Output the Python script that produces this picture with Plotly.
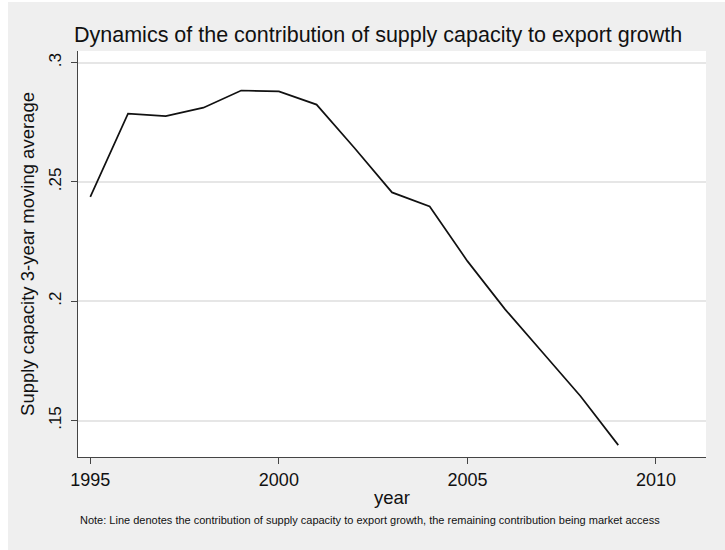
import plotly.graph_objects as go

years = [1995, 1996, 1997, 1998, 1999, 2000, 2001, 2002, 2003, 2004, 2005, 2006, 2007, 2008, 2009]
supply_share = [0.2437, 0.2786, 0.2776, 0.2811, 0.2883, 0.2879, 0.2824, 0.2643, 0.2456, 0.2397, 0.2168, 0.1966, 0.1784, 0.1602, 0.1397]
y_tickvals = [0.15, 0.2, 0.25, 0.3]
y_ticktext = [".15", ".2", ".25", ".3"]
x_tickvals = [1995, 2000, 2005, 2010]

title_text = "Dynamics of the contribution of supply capacity to export growth"
note_text = "Note: Line denotes the contribution of supply capacity to export growth, the remaining contribution being market access"

FONT = "Liberation Sans, Arial, Helvetica, sans-serif"
BG = "#efefef"
TXT = "#111111"

# plot area in pixels (reference)
L, R, T, B = 78, 706, 51, 457.5
PW, PH = R - L, B - T

fig = go.Figure()
fig.add_trace(go.Scatter(x=years, y=supply_share, mode="lines",
                         line=dict(color="#111111", width=1.7), showlegend=False,
                         hoverinfo="x+y"))

fig.update_layout(
    width=725, height=550,
    margin=dict(l=L, r=725 - R, t=T, b=550 - B, pad=0),
    paper_bgcolor=BG, plot_bgcolor="white",
    font=dict(family=FONT, color=TXT),
    showlegend=False,
    xaxis=dict(range=[1994.674, 2011.326], tickvals=x_tickvals,
               ticks="outside", ticklen=6, tickwidth=1, tickcolor="#444444",
               showline=True, linecolor="#444444", linewidth=1,
               showgrid=False, zeroline=False,
               tickfont=dict(size=18, family=FONT, color=TXT),
               title=dict(text="year", font=dict(size=18.5, family=FONT, color=TXT), standoff=2)),
    yaxis=dict(range=[0.13472, 0.30486], tickvals=y_tickvals, ticktext=y_ticktext,
               tickangle=-90, ticklabelstandoff=3,
               ticks="outside", ticklen=6, tickwidth=1, tickcolor="#444444",
               showline=True, linecolor="#444444", linewidth=1,
               showgrid=True, gridcolor="#e6e6e6", gridwidth=1.5, zeroline=False,
               tickfont=dict(size=17, family=FONT, color=TXT),
               title=dict(text="Supply capacity 3-year moving average",
                          font=dict(size=18.5, family=FONT, color=TXT), standoff=6)),
    shapes=[
        dict(type="rect", xref="paper", yref="paper", x0=-L / PW, x1=-(L - 8) / PW,
             y0=-2, y1=2, fillcolor="white", line=dict(width=0), layer="above"),
        dict(type="rect", xref="paper", yref="paper", x0=-0.2, x1=1.1,
             y0=1 + (T - 2) / PH, y1=1.5, fillcolor="white", line=dict(width=0), layer="above"),
    ],
    annotations=[
        dict(text=title_text, xref="paper", yref="paper",
             x=(377.5 - L) / PW, y=1 + (T - 35) / PH, xanchor="center", yanchor="middle",
             showarrow=False, font=dict(size=21.5, family=FONT, color=TXT)),
        dict(text=note_text, xref="paper", yref="paper",
             x=(370 - L) / PW, y=-(521 - B) / PH, xanchor="center", yanchor="middle",
             showarrow=False, font=dict(size=11, family=FONT, color=TXT)),
    ],
)

fig.write_html("out.html", config={"displayModeBar": False},
               post_script="document.body.style.margin='0';")
